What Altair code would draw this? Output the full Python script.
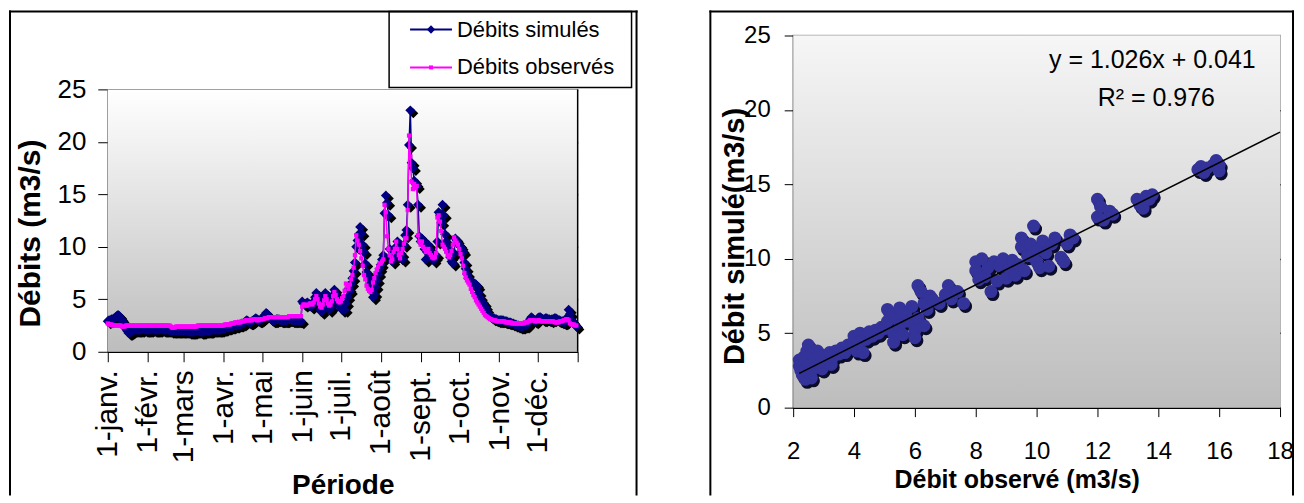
import json
import altair as alt
import pandas as pd

FONT = "Liberation Sans"

# ---------------- data ----------------
month_labels = ["1-janv.", "1-févr.", "1-mars", "1-avr.", "1-mai", "1-juin",
                "1-juil.", "1-août", "1-sept.", "1-oct.", "1-nov.", "1-déc."]
month_start_days = [0, 31, 59, 90, 120, 151, 181, 212, 243, 273, 304, 334]
year_length = 365

obs_jan = [2.7,2.6,2.6,2.6,2.5,2.5,2.5,2.5,2.5,2.5,2.5,2.4,2.4,2.4,2.5,2.5,2.5,2.5,2.5,2.5,2.5,2.5,2.5,2.5,2.5,2.5,2.5,2.5,2.5,2.5,2.5]
obs_feb = [2.5,2.5,2.5,2.5,2.5,2.5,2.5,2.5,2.5,2.5,2.5,2.5,2.5,2.5,2.5,2.5,2.5,2.5,2.4,2.3,2.3,2.3,2.4,2.4,2.4,2.4,2.4,2.4]
obs_mar = [2.4,2.4,2.4,2.4,2.4,2.4,2.4,2.4,2.4,2.4,2.4,2.5,2.5,2.5,2.5,2.5,2.5,2.5,2.5,2.5,2.5,2.5,2.5,2.5,2.5,2.5,2.5,2.5,2.5,2.5,2.5]
obs_apr = [2.5,2.6,2.6,2.6,2.6,2.6,2.7,2.7,2.7,2.8,2.8,2.8,2.8,2.8,2.9,2.9,2.9,3.0,3.0,3.0,3.0,3.0,3.0,3.1,3.1,3.1,3.0,3.0,3.1,3.1]
obs_may = [3.1,3.1,3.2,3.2,3.2,3.3,3.3,3.3,3.3,3.3,3.3,3.3,3.3,3.3,3.3,3.3,3.3,3.3,3.3,3.3,3.3,3.4,3.4,3.4,3.4,3.4,3.4,3.4,3.4,3.4,3.4]
obs_jun = [4.3,4.5,4.5,4.4,4.4,4.5,4.6,4.6,4.5,4.7,5.0,5.3,5.0,4.6,4.3,4.2,4.5,4.9,5.3,5.0,4.6,4.4,4.5,4.8,5.3,5.7,5.4,5.0,4.8,4.7]
obs_jul = [4.8,5.1,5.3,5.8,6.5,6.3,6.0,6.4,6.9,7.3,8.0,9.2,11.1,10.6,10.2,9.6,8.9,8.2,7.3,6.9,6.3,6.0,5.8,5.7,5.9,6.6,7.0,7.5,7.8,8.1,8.4]
obs_aug = [8.4,8.6,8.8,14.0,13.3,11.0,9.8,9.2,8.6,8.8,9.5,9.8,10.5,9.8,9.2,8.9,9.4,9.8,10.3,10.8,10.8,13.5,20.6,18.6,16.2,15.5,16.0,15.6,15.8,11.1,10.5]
obs_sep = [10.2,10.5,10.0,9.8,9.5,9.6,9.8,9.4,9.2,9.0,8.9,9.0,9.4,12.8,13.0,12.4,11.5,10.2,10.0,9.8,9.5,9.2,9.0,9.2,9.6,10.2,10.9,10.6,10.4,10.2]
obs_oct = [9.8,9.3,8.9,8.2,7.5,7.1,6.8,6.6,6.4,6.0,5.7,5.4,5.2,4.9,4.7,4.5,4.3,4.1,3.9,3.7,3.5,3.4,3.3,3.2,3.1,3.1,3.0,3.0,3.0,2.9,2.9]
obs_nov = [2.9,2.9,2.9,2.9,2.9,2.8,2.8,2.8,2.8,2.8,2.7,2.7,2.7,2.7,2.7,2.7,2.7,2.7,2.7,2.7,2.8,2.8,2.8,2.9,3.0,3.0,3.0,3.0,2.9,2.9]
obs_dec = [3.0,3.0,2.9,2.9,2.9,2.9,2.9,2.9,2.9,2.9,2.9,2.9,2.9,2.8,2.8,2.8,2.8,2.9,2.9,2.9,3.0,3.0,3.1,3.1,3.0,2.7,2.6,2.6,2.6,2.5,2.5]

sim_jan = [2.9,3.0,3.0,3.1,3.1,3.2,3.3,3.4,3.5,3.4,3.2,3.0,2.8,2.5,2.2,2.0,1.8,1.8,1.9,2.0,2.1,2.1,2.1,2.1,2.1,2.1,2.1,2.2,2.2,2.1,2.1]
sim_feb = [2.1,2.1,2.1,2.2,2.2,2.1,2.1,2.1,2.1,2.1,2.2,2.2,2.1,2.1,2.1,2.1,2.1,2.1,2.0,2.0,2.0,2.0,2.0,2.0,2.0,2.0,2.0,2.0]
sim_mar = [2.0,2.0,2.0,2.0,1.9,1.9,1.9,1.9,1.9,2.0,2.0,2.0,2.0,1.9,1.9,1.9,2.0,2.0,2.0,2.0,2.0,2.0,2.1,2.1,2.1,2.1,2.1,2.1,2.1,2.1,2.2]
sim_apr = [2.2,2.2,2.3,2.3,2.3,2.4,2.4,2.4,2.5,2.5,2.5,2.6,2.6,2.6,2.7,2.7,2.8,2.9,3.0,2.9,2.8,2.8,2.9,3.0,3.1,3.2,3.1,3.0,3.0,3.1]
sim_may = [3.2,3.3,3.5,3.7,3.6,3.4,3.2,3.1,3.0,3.0,3.0,3.1,3.1,3.1,3.0,3.0,3.0,3.0,3.0,3.0,3.1,3.1,3.1,3.0,3.0,3.0,3.0,3.0,3.0,3.0,2.9]
sim_jun = [4.8,4.6,4.5,4.6,4.7,4.6,4.5,4.3,4.5,4.8,5.2,5.6,5.3,4.6,4.0,3.8,4.2,5.0,5.6,5.2,4.5,4.0,4.2,4.8,5.4,5.9,5.5,5.0,4.6,4.3]
sim_jul = [4.2,4.0,4.4,4.0,4.6,5.2,6.0,5.8,6.5,7.0,7.7,8.5,10.0,10.6,11.2,11.9,11.3,10.2,9.5,8.4,7.6,7.2,7.0,6.5,5.8,5.2,5.5,6.2,6.8,7.4,7.9]
sim_aug = [8.3,8.8,9.2,13.2,14.9,14.2,13.0,9.8,9.0,8.6,8.9,9.5,10.0,10.5,9.6,9.0,9.3,8.8,10.2,11.1,11.6,14.0,19.7,23.0,18.0,17.5,16.3,16.0,15.8,14.0,11.0]
sim_sep = [10.5,10.8,10.5,9.8,8.8,9.5,10.2,9.8,9.5,9.0,8.7,9.0,9.2,10.5,13.3,13.0,12.3,14.0,13.0,11.2,10.5,9.9,9.5,9.0,8.6,8.4,9.4,10.8,10.6,10.3]
sim_oct = [10.2,10.0,9.7,9.5,8.5,7.9,7.4,7.0,6.9,6.7,6.5,6.4,6.5,6.4,6.2,5.6,5.2,4.9,4.7,4.6,4.3,4.0,3.7,3.5,3.4,3.3,3.2,3.2,3.1,3.1,3.0]
sim_nov = [3.0,3.0,3.0,3.0,2.9,2.9,2.9,2.8,2.8,2.8,2.7,2.7,2.6,2.6,2.5,2.5,2.4,2.4,2.4,2.5,2.5,2.5,2.6,2.8,3.1,3.3,3.2,3.0,2.9,3.0]
sim_dec = [3.2,3.3,3.3,3.2,3.1,3.1,3.2,3.2,3.1,3.1,3.0,3.1,3.1,3.2,3.2,3.1,3.0,3.0,2.9,2.9,2.8,2.8,2.9,3.3,4.0,3.6,3.0,2.9,2.7,2.6,2.4]

scatter_obs = [2.2,2.2,2.25,2.3,2.3,2.35,2.4,2.4,2.45,2.5,2.5,2.55,2.6,2.6,2.7,2.75,2.8,2.9,2.95,3.0,3.1,3.2,3.25,3.3,3.4,3.5,
               3.6,3.7,3.8,3.9,4.0,4.0,4.1,4.2,4.2,4.3,4.4,4.5,4.6,4.7,4.8,4.9,
               5.0,5.1,5.1,5.2,5.3,5.3,5.4,5.5,5.5,5.6,5.7,5.8,5.9,6.0,6.0,6.1,
               6.1,6.2,6.3,6.3,6.4,6.5,6.6,6.8,7.0,7.1,7.2,7.4,7.6,
               8.0,8.0,8.1,8.2,8.3,8.4,8.5,8.6,8.7,8.8,8.9,9.0,9.1,9.2,9.3,9.4,9.5,9.5,
               9.6,9.7,9.8,9.9,10.0,10.0,10.1,10.2,10.3,10.4,10.5,10.6,10.8,10.9,11.0,11.1,11.2,
               12.0,12.0,12.1,12.2,12.4,12.5,
               13.3,13.4,13.5,13.6,13.8,13.7,
               15.3,15.4,15.5,15.6,15.8,15.9,16.0,16.0]
scatter_sim = [2.8,3.2,2.5,3.0,2.2,3.4,2.6,1.9,3.8,3.0,4.2,2.4,3.6,2.0,3.3,2.7,3.8,3.1,2.6,3.5,3.0,3.7,2.9,3.4,3.8,3.6,
               4.0,3.7,4.2,4.1,4.8,4.0,3.8,5.0,4.4,3.7,4.6,5.1,4.8,5.2,5.0,5.4,
               5.3,6.6,5.8,6.2,5.0,4.4,6.0,6.7,5.5,4.9,6.3,5.8,6.8,5.2,4.7,6.0,
               8.2,7.8,7.0,5.5,6.6,7.5,7.2,7.0,7.6,8.2,7.3,7.8,7.0,
               9.2,9.8,8.6,10.0,8.8,9.4,7.8,9.8,8.5,9.5,10.0,8.7,9.4,9.9,8.9,9.6,10.8,11.4,
               9.2,10.2,11.0,12.2,9.8,10.6,9.4,11.2,10.4,9.5,11.0,11.4,10.1,9.8,11.0,11.6,11.4,
               12.8,14.0,13.5,12.6,13.2,13.0,
               14.0,13.6,13.4,14.2,14.3,14.0,
               16.0,16.2,15.8,16.1,16.3,16.6,16.3,15.9]

trend_slope = 1.026
trend_intercept = 0.041
trend_x = [2.2, 18.0]
equation_lines = ["y = 1.026x + 0.041", "R² = 0.976"]

legend_labels = ["Débits simulés", "Débits observés"]
sim_color = "#000080"
obs_color = "#FF00FF"

obs = obs_jan + obs_feb + obs_mar + obs_apr + obs_may + obs_jun + obs_jul + obs_aug + obs_sep + obs_oct + obs_nov + obs_dec
sim = sim_jan + sim_feb + sim_mar + sim_apr + sim_may + sim_jun + sim_jul + sim_aug + sim_sep + sim_oct + sim_nov + sim_dec
ts = pd.DataFrame({"day": list(range(len(obs))), "obs": obs, "sim": sim[:len(obs)]})
sc = pd.DataFrame({"obs": scatter_obs, "sim": scatter_sim})
trend = pd.DataFrame({"obs": trend_x, "sim": [trend_slope * v + trend_intercept for v in trend_x]})
one = pd.DataFrame({"k": [0]})

# ---------------- left panel ----------------
# the left view starts at the same height as the right one; its plot area is the lower part (TOP..LH)
LW, LH, TOP = 471, 317, 54
tick_vals = month_start_days + [year_length]
tick_names = month_labels + [""]
label_expr = "%s[indexof(%s, datum.value)]" % (json.dumps(tick_names, ensure_ascii=False), json.dumps(tick_vals))

x_axis_left = alt.Axis(values=tick_vals, labelExpr=label_expr, grid=False,
                       labelAngle=270, labelAlign="right", labelBaseline="middle",
                       labelFontSize=30, labelPadding=8, labelOverlap=False, labelFlush=False,
                       tickSize=10, tickColor="black", domainColor="black", domainWidth=1.5,
                       labelColor="black", title="Période", titleFontSize=28,
                       titleFontWeight="bold", titleColor="black", titleY=142,
                       titleBaseline="alphabetic")
xl = alt.X("day:Q", scale=alt.Scale(domain=[0, year_length], nice=False, zero=False), axis=x_axis_left)
y_axis_left = alt.Axis(values=[0, 5, 10, 15, 20, 25], grid=True, gridColor="black", gridWidth=1.5,
                       tickSize=10, tickColor="black", domainColor="black", domainWidth=1.5,
                       labelFontSize=26, labelPadding=12, labelColor="black",
                       title="Débits (m3/s)", titleFontSize=30, titleFontWeight="bold",
                       titleColor="black", titleAngle=270, titleX=-77, titleY=TOP + 144,
                       titleBaseline="middle", titleAlign="center")
yscale = alt.Scale(domain=[0, 25], range=[LH, TOP], nice=False, zero=True)

bg_left = alt.Chart(one).mark_rect(
    fill=alt.Gradient(gradient="linear", x1=0, x2=0, y1=0, y2=1,
                      stops=[alt.GradientStop(color="#ffffff", offset=0),
                             alt.GradientStop(color="#bdbdbd", offset=1)])
).encode(x=alt.value(0), x2=alt.value(LW), y=alt.value(TOP), y2=alt.value(LH))
right_border_left = alt.Chart(one).mark_rule(color="black", strokeWidth=1.5).encode(
    x=alt.value(LW), y=alt.value(TOP), y2=alt.value(LH))

base_ts = alt.Chart(ts)
ys = alt.Y("sim:Q", scale=yscale, axis=y_axis_left)
yo = alt.Y("obs:Q", scale=yscale, axis=y_axis_left)
sim_shadow = base_ts.mark_point(shape="diamond", filled=True, color="black", size=100, opacity=1,
                                xOffset=3, yOffset=3).encode(x=xl, y=ys)
sim_line = base_ts.mark_line(color=sim_color, strokeWidth=1.5).encode(x=xl, y=ys)
sim_pts = base_ts.mark_point(shape="diamond", filled=True, color=sim_color, size=100, opacity=1).encode(x=xl, y=ys)
obs_line = base_ts.mark_line(color=obs_color, strokeWidth=1.5).encode(x=xl, y=yo)
obs_pts = base_ts.mark_point(shape="square", filled=True, color=obs_color, size=18, opacity=1).encode(x=xl, y=yo)

leg_box = alt.Chart(one).mark_rect(fill="white", stroke="black", strokeWidth=1.5, clip=False).encode(
    x=alt.value(282), x2=alt.value(525), y=alt.value(-24), y2=alt.value(TOP - 2))
leg_layers = [leg_box]
leg_rows = [-6, 32]
for i, lab in enumerate(legend_labels):
    col = [sim_color, obs_color][i]
    yy = leg_rows[i]
    leg_layers.append(alt.Chart(one).mark_rule(color=col, strokeWidth=2, clip=False).encode(
        x=alt.value(303), x2=alt.value(345), y=alt.value(yy)))
    if i == 0:
        leg_layers.append(alt.Chart(one).mark_point(shape="diamond", filled=True, color=col, size=70,
                                                    opacity=1, clip=False).encode(x=alt.value(324), y=alt.value(yy)))
    else:
        leg_layers.append(alt.Chart(one).mark_point(shape="square", filled=True, color=col, size=16,
                                                    opacity=1, clip=False).encode(x=alt.value(324), y=alt.value(yy)))
    leg_layers.append(alt.Chart(pd.DataFrame({"t": [lab]})).mark_text(
        align="left", baseline="middle", fontSize=22, font=FONT, color="black", clip=False).encode(
        x=alt.value(350), y=alt.value(yy), text="t:N"))

frame_left = [
    alt.Chart(one).mark_rule(color="black", strokeWidth=2, strokeCap="square", clip=False).encode(
        x=alt.value(-98), y=alt.value(-24), y2=alt.value(460)),
    alt.Chart(one).mark_rule(color="black", strokeWidth=2, strokeCap="square", clip=False).encode(
        x=alt.value(530), y=alt.value(-24), y2=alt.value(460)),
    alt.Chart(one).mark_rule(color="black", strokeWidth=2, strokeCap="square", clip=False).encode(
        x=alt.value(-98), x2=alt.value(530), y=alt.value(-24)),
]

left = alt.layer(bg_left, right_border_left, sim_shadow, sim_line, sim_pts, obs_line, obs_pts,
                 *leg_layers, *frame_left).properties(
    width=LW, height=LH, view=alt.ViewBackground(stroke="transparent", strokeWidth=0))

# ---------------- right panel ----------------
RW, RH = 488, 373
x_axis_right = alt.Axis(values=list(range(2, 19, 2)), grid=False, tickSize=9, tickColor="black",
                        domainColor="black", domainWidth=1.5, labelFontSize=24, labelPadding=23,
                        labelColor="black", labelFlush=False,
                        title="Débit observé (m3/s)", titleFontSize=25, titleFontWeight="bold",
                        titleColor="black", titleX=224, titleY=80, titleBaseline="alphabetic",
                        titleAlign="center")
xr = alt.X("obs:Q", scale=alt.Scale(domain=[2, 18], nice=False, zero=False), axis=x_axis_right)
yr_axis = alt.Axis(values=[0, 5, 10, 15, 20, 25], grid=True,
                   gridColor={"condition": {"test": "datum.value >= 25", "value": "#a0a0a0"}, "value": "black"},
                   gridWidth=1.5, tickSize=9, tickColor="black", domainColor="black", domainWidth=1.5,
                   labelFontSize=24, labelPadding=14, labelColor="black",
                   title="Débit simulé(m3/s)", titleFontSize=29, titleFontWeight="bold", titleColor="black",
                   titleAngle=270, titleX=-59, titleY=201, titleBaseline="middle", titleAlign="center")
yr = alt.Y("sim:Q", scale=alt.Scale(domain=[0, 25], nice=False), axis=yr_axis)

bg_right = alt.Chart(one).mark_rect(
    fill=alt.Gradient(gradient="linear", x1=0, x2=0, y1=0, y2=1,
                      stops=[alt.GradientStop(color="#f6f6f6", offset=0),
                             alt.GradientStop(color="#bdbdbd", offset=1)])
).encode(x=alt.value(0), x2=alt.value(RW), y=alt.value(0), y2=alt.value(RH))

sc_shadow = alt.Chart(sc).mark_circle(color="#0b0b2a", size=170, opacity=1, xOffset=2, yOffset=3).encode(x=xr, y=yr)
sc_pts = alt.Chart(sc).mark_circle(color="#333399", size=170, opacity=1).encode(x=xr, y=yr)
trend_line = alt.Chart(trend).mark_line(color="black", strokeWidth=1.5).encode(x=xr, y=yr)
eq1 = alt.Chart(pd.DataFrame({"t": [equation_lines[0]]})).mark_text(
    align="center", baseline="middle", fontSize=25, font=FONT, color="black").encode(
    x=alt.value(360), y=alt.value(25), text="t:N")
eq2 = alt.Chart(pd.DataFrame({"t": [equation_lines[1]]})).mark_text(
    align="center", baseline="middle", fontSize=25, font=FONT, color="black").encode(
    x=alt.value(364), y=alt.value(63), text="t:N")

frame_right = [
    alt.Chart(one).mark_rule(color="black", strokeWidth=2, strokeCap="square", clip=False).encode(
        x=alt.value(-83), y=alt.value(-24), y2=alt.value(460)),
    alt.Chart(one).mark_rule(color="black", strokeWidth=2, strokeCap="square", clip=False).encode(
        x=alt.value(501), y=alt.value(-24), y2=alt.value(460)),
    alt.Chart(one).mark_rule(color="black", strokeWidth=2, strokeCap="square", clip=False).encode(
        x=alt.value(-83), x2=alt.value(501), y=alt.value(-24)),
]

right = alt.layer(bg_right, sc_shadow, sc_pts, trend_line, eq1, eq2, *frame_right).properties(
    width=RW, height=RH, view=alt.ViewBackground(stroke="#a0a0a0", strokeWidth=1.5))

chart = alt.hconcat(left, right, spacing=69).properties(padding=0, background="white").configure(
    font=FONT).configure_axis(labelFont=FONT, titleFont=FONT)

chart.save("out.html", embed_options={"renderer": "svg", "actions": False})
